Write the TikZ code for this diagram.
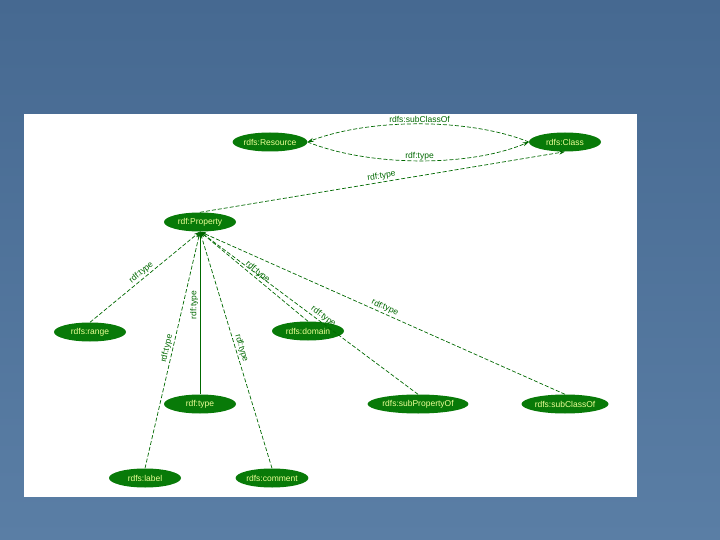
\documentclass[tikz,border=0pt]{standalone}
\usepackage{fontspec}
\setmainfont{Liberation Sans}
\usetikzlibrary{arrows.meta,shapes.geometric}
\definecolor{bgtop}{RGB}{70,105,145}
\definecolor{bgbot}{RGB}{90,126,165}
\definecolor{nodegreen}{RGB}{8,122,8}
\definecolor{txtyellow}{RGB}{236,255,150}
\definecolor{edgegreen}{RGB}{0,105,0}
\begin{document}
\begin{tikzpicture}[x=1pt,y=-1pt,
  rnode/.style={ellipse, fill=nodegreen, text=txtyellow, inner sep=0pt,
    minimum height=19pt, minimum width=72pt, font=\fontsize{8.5}{10}\selectfont},
  rel/.style={draw=edgegreen, line width=0.7pt, dash pattern=on 4pt off 2pt,
    -{Stealth[length=6pt,width=4pt]}},
  lab/.style={text=edgegreen, font=\fontsize{8.5}{10}\selectfont, inner sep=1.5pt}]
\shade[top color=bgtop,bottom color=bgbot] (0,0) rectangle (720,540);
\useasboundingbox (0,0) rectangle (720,540);
\fill[white] (24,114) rectangle (637,497);

\node[rnode] (res) at (270,142) {rdfs:Resource};
\node[rnode] (cls) at (565,142) {rdfs:Class};
\node[rnode] (prop) at (200,222) {rdf:Property};
\node[rnode] (range) at (90,332) {rdfs:range};
\node[rnode] (domain) at (308,331) {rdfs:domain};
\node[rnode] (type) at (200,404) {rdf:type};
\node[rnode, minimum width=94pt] (subp) at (418,404) {rdfs:subPropertyOf};
\node[rnode, minimum width=87pt] (subc) at (565,404) {rdfs:subClassOf};
\node[rnode] (label) at (145,478) {rdfs:label};
\node[rnode] (comment) at (272,478) {rdfs:comment};

\draw[rel] (cls.west) .. controls (470,118) and (370,118) .. node[lab,above]{rdfs:subClassOf} (res.east);
\draw[rel] (res.east) .. controls (370,167) and (470,167) .. node[lab,above,inner sep=0.3pt]{rdf:type} (cls.west);
\draw[rel] (prop.north) -- node[lab,sloped,above]{rdf:type} (cls.south);

\draw[rel] (range.north) -- node[lab,sloped,above]{rdf:type} (prop.south);
\draw[rel,solid] (type.north) -- node[lab,rotate=90,anchor=south,pos=0.55]{rdf:type} (prop.south);
\draw[rel] (label.north) -- node[lab,sloped,above]{rdf:type} (prop.south);
\draw[rel] (comment.north) -- node[lab,sloped,above]{rdf:type} (prop.south);
\draw[rel] (domain.north) -- node[lab,sloped,above]{rdf:type} (prop.south);
\draw[rel] (subp.north) -- node[lab,sloped,above,pos=0.45]{rdf:type} (prop.south);
\draw[rel] (subc.north) -- node[lab,sloped,above]{rdf:type} (prop.south);
\end{tikzpicture}
\end{document}
